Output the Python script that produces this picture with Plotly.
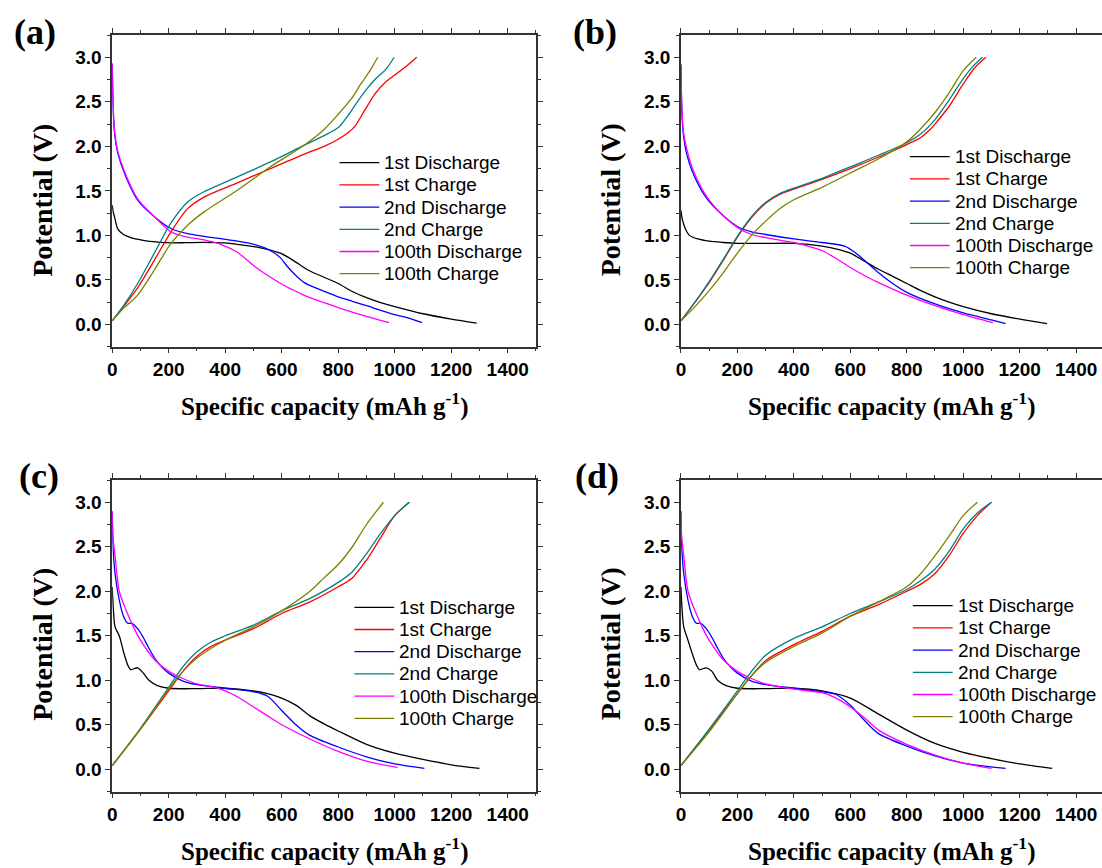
import plotly.graph_objects as go

W, H = 1102, 868

SERIES_NAMES = ["1st Discharge", "1st Charge", "2nd Discharge", "2nd Charge",
                "100th Discharge", "100th Charge"]
SERIES_COLORS = ["#000000", "#ff0000", "#0000ff", "#008080", "#ff00ff", "#808000"]
PANEL_LABELS = ["(a)", "(b)", "(c)", "(d)"]
X_TICKS = [0, 200, 400, 600, 800, 1000, 1200, 1400]
Y_TICKS = [0.0, 0.5, 1.0, 1.5, 2.0, 2.5, 3.0]

# ---------------- panel (a) ----------------
A_D1_X = [0, 3, 8, 20, 40, 66, 100, 125, 170, 208, 260, 325, 400, 443, 490, 525, 560, 595, 625, 650, 678, 700, 750, 800, 850, 900, 950, 1000, 1100, 1200, 1290]
A_D1_Y = [1.34, 1.27, 1.21, 1.07, 1.01, 0.976, 0.95, 0.935, 0.922, 0.916, 0.918, 0.922, 0.915, 0.90, 0.88, 0.86, 0.835, 0.80, 0.75, 0.70, 0.64, 0.60, 0.53, 0.46, 0.37, 0.30, 0.245, 0.20, 0.12, 0.06, 0.015]
A_C1_X = [0, 40, 90, 149, 208, 267, 325, 443, 560, 678, 750, 800, 838, 860, 893, 930, 967, 1000, 1041, 1078]
A_C1_Y = [0.04, 0.20, 0.41, 0.72, 1.04, 1.30, 1.43, 1.59, 1.75, 1.91, 2.00, 2.08, 2.16, 2.23, 2.40, 2.59, 2.72, 2.80, 2.90, 3.00]
A_D2_X = [0, 2, 5, 10, 20, 43, 90, 149, 208, 267, 325, 443, 501, 540, 570, 595, 620, 650, 680, 720, 760, 800, 850, 900, 1000, 1050, 1097]
A_D2_Y = [2.93, 2.60, 2.30, 2.10, 1.92, 1.70, 1.395, 1.21, 1.077, 1.02, 0.99, 0.935, 0.90, 0.86, 0.81, 0.75, 0.65, 0.55, 0.47, 0.41, 0.36, 0.31, 0.26, 0.21, 0.11, 0.07, 0.02]
A_C2_X = [0, 40, 90, 149, 208, 267, 325, 443, 560, 678, 750, 800, 838, 870, 900, 930, 970, 998]
A_C2_Y = [0.04, 0.21, 0.46, 0.80, 1.14, 1.376, 1.49, 1.657, 1.825, 2.01, 2.12, 2.21, 2.36, 2.51, 2.64, 2.75, 2.87, 3.00]
A_D3_X = [0, 2, 5, 10, 20, 43, 90, 149, 208, 267, 325, 384, 443, 501, 560, 619, 678, 700, 800, 900, 980]
A_D3_Y = [2.93, 2.60, 2.32, 2.12, 1.94, 1.72, 1.41, 1.21, 1.04, 0.98, 0.95, 0.90, 0.81, 0.66, 0.53, 0.42, 0.33, 0.30, 0.19, 0.09, 0.02]
A_C3_X = [0, 40, 90, 149, 208, 267, 325, 443, 560, 678, 750, 800, 850, 880, 900, 920, 940]
A_C3_Y = [0.04, 0.18, 0.33, 0.61, 0.909, 1.114, 1.264, 1.507, 1.77, 2.01, 2.19, 2.36, 2.55, 2.70, 2.79, 2.89, 3.00]

# ---------------- panel (b) ----------------
B_D1_X = [0, 5, 15, 30, 60, 100, 150, 200, 300, 400, 500, 560, 600, 650, 700, 750, 800, 850, 900, 950, 1000, 1100, 1200, 1297]
B_D1_Y = [1.28, 1.18, 1.08, 1.00, 0.96, 0.935, 0.92, 0.91, 0.91, 0.91, 0.88, 0.84, 0.80, 0.71, 0.62, 0.54, 0.46, 0.38, 0.31, 0.25, 0.20, 0.12, 0.06, 0.01]
B_C1_X = [0, 50, 100, 150, 200, 250, 300, 350, 400, 500, 600, 700, 800, 850, 880, 900, 950, 1000, 1040, 1080]
B_C1_Y = [0.04, 0.25, 0.47, 0.72, 0.98, 1.20, 1.36, 1.46, 1.52, 1.63, 1.75, 1.88, 2.02, 2.10, 2.18, 2.25, 2.45, 2.70, 2.88, 3.00]
B_D2_X = [0, 2, 5, 10, 20, 40, 90, 150, 200, 250, 300, 400, 500, 580, 620, 650, 700, 750, 800, 900, 1000, 1100, 1150]
B_D2_Y = [2.92, 2.55, 2.28, 2.10, 1.92, 1.72, 1.42, 1.22, 1.10, 1.04, 1.01, 0.96, 0.92, 0.88, 0.80, 0.72, 0.58, 0.46, 0.36, 0.23, 0.13, 0.05, 0.01]
B_C2_X = [0, 50, 100, 150, 200, 250, 300, 350, 400, 500, 600, 700, 800, 850, 900, 950, 1000, 1035, 1068]
B_C2_Y = [0.04, 0.25, 0.48, 0.73, 0.99, 1.21, 1.37, 1.47, 1.53, 1.64, 1.77, 1.90, 2.04, 2.14, 2.30, 2.52, 2.76, 2.90, 3.00]
B_D3_X = [0, 2, 5, 10, 20, 40, 90, 150, 200, 250, 300, 400, 450, 500, 550, 600, 650, 700, 800, 900, 1000, 1105]
B_D3_Y = [2.92, 2.58, 2.32, 2.14, 1.98, 1.76, 1.44, 1.22, 1.09, 1.01, 0.975, 0.92, 0.88, 0.83, 0.74, 0.64, 0.55, 0.47, 0.33, 0.21, 0.11, 0.02]
B_C3_X = [0, 50, 100, 150, 200, 250, 300, 350, 400, 500, 600, 700, 800, 850, 900, 950, 1000, 1046]
B_C3_Y = [0.04, 0.20, 0.38, 0.58, 0.80, 1.00, 1.16, 1.30, 1.40, 1.54, 1.70, 1.86, 2.05, 2.20, 2.38, 2.60, 2.85, 3.00]

# ---------------- panel (c) ----------------
C_D1_X = [0, 4, 10, 25, 40, 55, 65, 90, 110, 130, 160, 200, 300, 400, 500, 550, 600, 650, 700, 750, 800, 900, 1000, 1100, 1200, 1300]
C_D1_Y = [2.05, 1.80, 1.60, 1.50, 1.32, 1.17, 1.12, 1.14, 1.08, 1.00, 0.94, 0.91, 0.905, 0.91, 0.88, 0.85, 0.80, 0.72, 0.60, 0.51, 0.43, 0.28, 0.18, 0.11, 0.05, 0.01]
C_C1_X = [0, 100, 200, 250, 300, 350, 400, 500, 600, 700, 800, 850, 900, 950, 1000, 1052]
C_C1_Y = [0.04, 0.45, 0.88, 1.10, 1.27, 1.38, 1.45, 1.58, 1.75, 1.88, 2.05, 2.15, 2.35, 2.60, 2.85, 3.00]
C_D2_X = [0, 3, 10, 25, 40, 55, 70, 90, 110, 130, 150, 175, 200, 250, 300, 400, 500, 550, 600, 650, 700, 800, 900, 1000, 1105]
C_D2_Y = [2.90, 2.50, 2.20, 1.90, 1.72, 1.64, 1.64, 1.58, 1.48, 1.36, 1.25, 1.15, 1.08, 0.99, 0.95, 0.91, 0.87, 0.82, 0.66, 0.50, 0.38, 0.25, 0.14, 0.06, 0.01]
C_C2_X = [0, 100, 200, 250, 300, 350, 400, 500, 600, 700, 800, 850, 900, 950, 1000, 1050]
C_C2_Y = [0.04, 0.46, 0.92, 1.15, 1.32, 1.43, 1.50, 1.62, 1.78, 1.92, 2.10, 2.22, 2.42, 2.65, 2.85, 3.00]
C_D3_X = [0, 3, 10, 25, 50, 75, 100, 150, 200, 250, 300, 350, 400, 450, 500, 550, 600, 700, 800, 900, 1010]
C_D3_Y = [2.90, 2.60, 2.40, 2.00, 1.78, 1.60, 1.45, 1.23, 1.10, 1.02, 0.96, 0.93, 0.88, 0.80, 0.70, 0.60, 0.50, 0.34, 0.20, 0.09, 0.02]
C_C3_X = [0, 100, 200, 250, 300, 400, 500, 600, 700, 750, 800, 850, 900, 960]
C_C3_Y = [0.04, 0.45, 0.90, 1.10, 1.25, 1.45, 1.60, 1.78, 2.00, 2.15, 2.30, 2.50, 2.75, 3.00]

# ---------------- panel (d) ----------------
D_D1_X = [0, 4, 10, 25, 40, 55, 65, 90, 110, 130, 160, 200, 300, 400, 500, 600, 700, 800, 900, 1000, 1100, 1200, 1315]
D_D1_Y = [2.05, 1.80, 1.60, 1.45, 1.30, 1.17, 1.12, 1.14, 1.10, 1.00, 0.94, 0.91, 0.905, 0.91, 0.88, 0.80, 0.62, 0.44, 0.29, 0.19, 0.12, 0.06, 0.01]
D_C1_X = [0, 100, 200, 250, 300, 400, 500, 600, 700, 800, 850, 900, 950, 1000, 1050, 1100]
D_C1_Y = [0.04, 0.44, 0.85, 1.05, 1.22, 1.40, 1.55, 1.72, 1.85, 2.00, 2.08, 2.20, 2.40, 2.65, 2.85, 3.00]
D_D2_X = [0, 3, 10, 25, 40, 55, 70, 90, 110, 130, 150, 175, 200, 250, 300, 400, 500, 550, 600, 650, 700, 800, 900, 1000, 1150]
D_D2_Y = [2.90, 2.50, 2.20, 1.90, 1.72, 1.64, 1.64, 1.58, 1.48, 1.36, 1.25, 1.15, 1.08, 0.99, 0.95, 0.91, 0.87, 0.84, 0.72, 0.55, 0.40, 0.26, 0.15, 0.07, 0.01]
D_C2_X = [0, 100, 200, 250, 300, 400, 500, 600, 700, 800, 850, 900, 950, 1000, 1050, 1100]
D_C2_Y = [0.04, 0.45, 0.88, 1.10, 1.28, 1.47, 1.60, 1.75, 1.88, 2.02, 2.12, 2.25, 2.45, 2.70, 2.88, 3.00]
D_D3_X = [0, 3, 10, 25, 50, 75, 100, 150, 200, 250, 300, 400, 500, 550, 600, 650, 700, 800, 900, 1000, 1100]
D_D3_Y = [2.90, 2.60, 2.40, 2.00, 1.78, 1.60, 1.45, 1.23, 1.10, 1.02, 0.96, 0.90, 0.86, 0.80, 0.70, 0.58, 0.44, 0.28, 0.16, 0.07, 0.01]
D_C3_X = [0, 100, 200, 250, 300, 400, 500, 600, 700, 800, 850, 900, 950, 1000, 1050]
D_C3_Y = [0.04, 0.42, 0.85, 1.05, 1.20, 1.38, 1.53, 1.72, 1.88, 2.05, 2.20, 2.40, 2.62, 2.85, 3.00]

PANEL_DATA = [
    [(A_D1_X, A_D1_Y), (A_C1_X, A_C1_Y), (A_D2_X, A_D2_Y), (A_C2_X, A_C2_Y), (A_D3_X, A_D3_Y), (A_C3_X, A_C3_Y)],
    [(B_D1_X, B_D1_Y), (B_C1_X, B_C1_Y), (B_D2_X, B_D2_Y), (B_C2_X, B_C2_Y), (B_D3_X, B_D3_Y), (B_C3_X, B_C3_Y)],
    [(C_D1_X, C_D1_Y), (C_C1_X, C_C1_Y), (C_D2_X, C_D2_Y), (C_C2_X, C_C2_Y), (C_D3_X, C_D3_Y), (C_C3_X, C_C3_Y)],
    [(D_D1_X, D_D1_Y), (D_C1_X, D_C1_Y), (D_D2_X, D_D2_Y), (D_C2_X, D_C2_Y), (D_D3_X, D_D3_Y), (D_C3_X, D_C3_Y)],
]

# ---------------- layout geometry (pixels) ----------------
PLOT_BOXES = [(107.7, 533.4, 35, 346.7), (679, 1104.4, 35, 346.7),
              (107.7, 533.4, 480, 791.5), (679, 1104.4, 480, 791.5)]
X_FULL = 1500
LEGEND_TEXT_X = [379, 952, 394, 955]
LEGEND_ROW0_Y = [162.7, 156.7, 607.3, 605.7]
LEGEND_ROW_GAP = 22.2
LABEL_POS = [(30, 32), (593, 32), (34, 476), (595, 476)]
YTITLE_POS = [(37, 200), (608, 200), (37, 644), (608, 644)]
XTITLE_POS = [(321, 404), (891, 404), (321, 849), (891, 849)]

fig = go.Figure()
axis_line = "#333333"
tick_font = dict(family="Liberation Sans", size=19, color="#000000", weight="bold")

shapes = []
annotations = []
for i, box in enumerate(PLOT_BOXES):
    l, r, t, b = box
    sfx = "" if i == 0 else str(i + 1)
    xr = X_FULL
    rr = r
    cropped = r > W
    if cropped:
        xr = X_FULL * (W - l) / (r - l)
        rr = W
    xdom = [l / W, rr / W]
    ydom = [1 - b / H, 1 - t / H]
    for k, (xs, ys) in enumerate(PANEL_DATA[i]):
        fig.add_trace(go.Scatter(
            x=xs, y=ys, mode="lines", name=SERIES_NAMES[k], showlegend=False,
            line=dict(color=SERIES_COLORS[k], width=1.3, shape="spline", smoothing=0.8),
            xaxis="x" + sfx, yaxis="y" + sfx,
        ))
        # legend entry (swatch + label)
        ry = LEGEND_ROW0_Y[i] + k * LEGEND_ROW_GAP
        tx = LEGEND_TEXT_X[i]
        shapes.append(dict(type="line", xref="paper", yref="paper",
                           x0=(tx - 43) / W, x1=(tx - 3) / W,
                           y0=1 - ry / H, y1=1 - ry / H,
                           line=dict(color=SERIES_COLORS[k], width=1.3)))
        annotations.append(dict(
            text=SERIES_NAMES[k], xref="paper", yref="paper",
            x=tx / W, y=1 - ry / H, xanchor="left", yanchor="middle",
            showarrow=False,
            font=dict(family="Liberation Sans", size=19, color="#000000"),
        ))
    fig.update_layout(**{
        "xaxis" + sfx: dict(
            domain=xdom, range=[0, xr], anchor="y" + sfx,
            tickvals=X_TICKS, ticktext=[str(v) for v in X_TICKS],
            ticks="outside", ticklen=5, tickwidth=1.2, tickcolor=axis_line,
            minor=dict(dtick=100, tick0=0, ticks="outside", ticklen=3, tickcolor=axis_line, tickwidth=1),
            showline=True, linecolor=axis_line, linewidth=1.5, mirror="allticks",
            showgrid=False, zeroline=False, tickfont=tick_font,
        ),
        "yaxis" + sfx: dict(
            domain=ydom, range=[-0.25, 3.25], anchor="x" + sfx,
            tickvals=Y_TICKS, ticktext=["%.1f" % v for v in Y_TICKS],
            ticks="outside", ticklen=5, tickwidth=1.2, tickcolor=axis_line,
            minor=dict(dtick=0.25, tick0=0, ticks="outside", ticklen=3, tickcolor=axis_line, tickwidth=1),
            showline=True, linecolor=axis_line, linewidth=1.5,
            mirror=False if cropped else "allticks",
            showgrid=False, zeroline=False, tickfont=tick_font,
        ),
    })

serif_bold = dict(family="Liberation Serif", color="#000000", weight="bold")
for i in range(4):
    annotations.append(dict(
        text=PANEL_LABELS[i], xref="paper", yref="paper",
        x=LABEL_POS[i][0] / W, y=1 - LABEL_POS[i][1] / H,
        xanchor="center", yanchor="middle", showarrow=False,
        font=dict(serif_bold, size=36),
    ))
    annotations.append(dict(
        text="Potential (V)", xref="paper", yref="paper",
        x=YTITLE_POS[i][0] / W, y=1 - YTITLE_POS[i][1] / H,
        xanchor="center", yanchor="middle", showarrow=False, textangle=-90,
        font=dict(serif_bold, size=28),
    ))
    annotations.append(dict(
        text="Specific capacity (mAh g<sup>-1</sup>)", xref="paper", yref="paper",
        x=XTITLE_POS[i][0] / W, y=1 - XTITLE_POS[i][1] / H,
        xanchor="center", yanchor="middle", showarrow=False,
        font=dict(serif_bold, size=25),
    ))

fig.update_layout(
    width=W, height=H, margin=dict(l=0, r=0, t=0, b=0),
    paper_bgcolor="white", plot_bgcolor="white",
    annotations=annotations, shapes=shapes, showlegend=False,
)

fig.write_html("out.html", config={"displayModeBar": False},
               post_script="document.body.style.margin='0';document.body.style.overflow='hidden';")
